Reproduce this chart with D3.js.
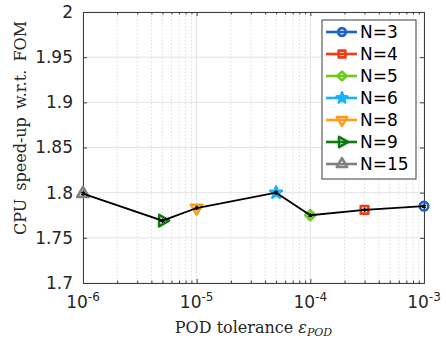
<!DOCTYPE html>
<html>
<head>
<meta charset="utf-8">
<script src="https://cdn.jsdelivr.net/npm/d3@7"></script>
<style>
  body { margin: 0; background: #fff; }
  svg { display: block; }
</style>
</head>
<body>
<div id="chart"></div>
<script>
// series, one point each (POD tolerance, CPU speed-up)
const seriesNames = ['N=3', 'N=4', 'N=5', 'N=6', 'N=8', 'N=9', 'N=15'];
const seriesTol = [1e-3, 3e-4, 1e-4, 5e-5, 1e-5, 5e-6, 1e-6];
const seriesSpeedup = [1.785, 1.781, 1.775, 1.800, 1.783, 1.769, 1.799];
const seriesColors = ['#1a64c8', '#f53b12', '#6ccb1c', '#19b3f5', '#ff9a1a', '#0f7a12', '#808080'];
const seriesSymbols = ['circle', 'square', 'diamond', 'star', 'triDown', 'triRight', 'triUp'];

const yTicks = [1.7, 1.75, 1.8, 1.85, 1.9, 1.95, 2];
const xTickExp = [-6, -5, -4, -3];

const width = 446, height = 342;
const margin = {top: 12, right: 22, bottom: 59, left: 83};
const w = width - margin.left - margin.right;
const h = height - margin.top - margin.bottom;

const svg = d3.select('#chart').append('svg')
  .attr('width', width)
  .attr('height', height);

const g = svg.append('g')
  .attr('transform', `translate(${margin.left},${margin.top})`);

const x = d3.scaleLog().domain([1e-6, 1e-3]).range([0, w]);
const y = d3.scaleLinear().domain([1.7, 2]).range([h, 0]);

// minor grid (dotted)
const minor = [];
xTickExp.slice(0, -1).forEach(e => {
  for (let k = 2; k <= 9; k++) minor.push(k * Math.pow(10, e));
});
g.append('g').selectAll('line').data(minor).join('line')
  .attr('x1', d => x(d)).attr('x2', d => x(d))
  .attr('y1', 0).attr('y2', h)
  .attr('stroke', '#d4d4d4')
  .attr('stroke-width', 0.8)
  .attr('stroke-dasharray', '1.5,2');

// major grid
g.append('g').selectAll('line').data(xTickExp.map(e => Math.pow(10, e))).join('line')
  .attr('x1', d => x(d)).attr('x2', d => x(d))
  .attr('y1', 0).attr('y2', h)
  .attr('stroke', '#e3e3e3');
g.append('g').selectAll('line').data(yTicks).join('line')
  .attr('x1', 0).attr('x2', w)
  .attr('y1', d => y(d)).attr('y2', d => y(d))
  .attr('stroke', '#e3e3e3');

// axes (MATLAB box style, ticks inward)
const axisColor = '#3c3c3c';
const tickLen = 4;
const yAxis = g.append('g')
  .call(d3.axisLeft(y).tickValues(yTicks).tickSizeInner(-tickLen).tickSizeOuter(0)
    .tickPadding(6 + tickLen).tickFormat(d3.format('~g')));
g.append('g').attr('transform', `translate(${w},0)`)
  .call(d3.axisRight(y).tickValues(yTicks).tickSizeInner(-tickLen).tickSizeOuter(0).tickFormat(''));
const xMajor = xTickExp.map(e => Math.pow(10, e));
g.append('g').attr('transform', `translate(0,${h})`)
  .call(d3.axisBottom(x).tickValues(xMajor).tickSizeInner(-tickLen).tickSizeOuter(0).tickFormat(''));
g.append('g')
  .call(d3.axisTop(x).tickValues(xMajor).tickSizeInner(-tickLen).tickSizeOuter(0).tickFormat(''));
// minor ticks bottom/top
g.append('g').attr('transform', `translate(0,${h})`)
  .call(d3.axisBottom(x).tickValues(minor).tickSizeInner(-2.5).tickSizeOuter(0).tickFormat(''));
g.append('g')
  .call(d3.axisTop(x).tickValues(minor).tickSizeInner(-2.5).tickSizeOuter(0).tickFormat(''));

g.selectAll('.domain').attr('stroke', axisColor);
g.selectAll('.tick line').attr('stroke', axisColor);
yAxis.selectAll('text')
  .attr('font-family', 'DejaVu Sans')
  .attr('font-size', 17)
  .attr('fill', '#262626');

// x tick labels 10^e
const xLab = g.append('g').selectAll('text').data(xTickExp).join('text')
  .attr('x', d => x(Math.pow(10, d)))
  .attr('y', h + 25)
  .attr('text-anchor', 'middle')
  .attr('font-family', 'DejaVu Sans')
  .attr('font-size', 17)
  .attr('fill', '#262626');
xLab.append('tspan').text('10');
xLab.append('tspan').attr('dy', -7).attr('font-size', 12).text(d => '-' + Math.abs(d));

// axis titles (LaTeX look)
svg.append('text')
  .attr('transform', `translate(26,${margin.top + 116}) rotate(-90)`)
  .attr('text-anchor', 'middle')
  .attr('font-family', 'DejaVu Serif')
  .attr('font-size', 16)
  .attr('fill', '#262626')
  .attr('word-spacing', 3)
  .text('CPU speed-up w.r.t. FOM');

const xt = svg.append('text')
  .attr('x', margin.left + w / 2)
  .attr('y', height - 9)
  .attr('text-anchor', 'middle')
  .attr('font-family', 'DejaVu Serif')
  .attr('font-size', 16)
  .attr('fill', '#262626');
xt.append('tspan').text('POD tolerance ');
xt.append('tspan').attr('font-style', 'italic').text('ε');
xt.append('tspan').attr('font-style', 'italic').attr('font-size', 11).attr('dy', 3).text('POD');

// marker shapes
const symbolMap = {
  circle: [d3.symbolCircle, 0, 1], square: [d3.symbolSquare, 0, 1], diamond: [d3.symbolDiamond2, 0, 1.1],
  star: [d3.symbolStar, 0, 0.75], triDown: [d3.symbolTriangle, 180, 1], triRight: [d3.symbolTriangle, 90, 1],
  triUp: [d3.symbolTriangle, 0, 1]
};
function drawMarker(sel, i, cx, cy, size) {
  const [type, rot, k] = symbolMap[seriesSymbols[i]];
  sel.append('path')
    .attr('d', d3.symbol().type(type).size(size * k)())
    .attr('transform', `translate(${cx},${cy}) rotate(${rot})`)
    .attr('fill', seriesSymbols[i] === 'star' ? seriesColors[i] : 'none')
    .attr('stroke', seriesColors[i])
    .attr('stroke-width', 2.6)
    .attr('stroke-linejoin', 'round');
}

// colored markers
const idx = d3.range(seriesNames.length);
const marks = g.append('g');
idx.forEach(i => drawMarker(marks, i, x(seriesTol[i]), y(seriesSpeedup[i]), 58));

// black connecting line through the points, sorted by tolerance
const order = idx.slice().sort((a, b) => seriesTol[a] - seriesTol[b]);
const line = d3.line()
  .x(i => x(seriesTol[i]))
  .y(i => y(seriesSpeedup[i]));
g.append('path')
  .datum(order)
  .attr('fill', 'none')
  .attr('stroke', '#000')
  .attr('stroke-width', 1.8)
  .attr('d', line);
// small black asterisk markers
g.append('g').selectAll('path').data(idx).join('path')
  .attr('d', d3.symbol().type(d3.symbolAsterisk).size(14)())
  .attr('transform', i => `translate(${x(seriesTol[i])},${y(seriesSpeedup[i])})`)
  .attr('stroke', '#000')
  .attr('stroke-width', 1.3);

// legend
const lx = 322 - margin.left, ly = 20 - margin.top;
const rowH = 22;
const legend = g.append('g').attr('transform', `translate(${lx},${ly})`);
legend.append('rect')
  .attr('width', 94).attr('height', 159)
  .attr('fill', '#fff')
  .attr('stroke', '#3c3c3c')
  .attr('stroke-width', 1);
idx.forEach(i => {
  const cy = 12 + i * rowH;
  legend.append('line')
    .attr('x1', 4).attr('x2', 35)
    .attr('y1', cy).attr('y2', cy)
    .attr('stroke', seriesColors[i])
    .attr('stroke-width', 2.6);
  drawMarker(legend, i, 20, cy, 46);
  legend.append('text')
    .attr('x', 38)
    .attr('y', cy + 6)
    .attr('font-family', 'DejaVu Sans')
    .attr('font-size', 17)
    .attr('fill', '#000')
    .text(seriesNames[i]);
});
</script>
</body>
</html>
